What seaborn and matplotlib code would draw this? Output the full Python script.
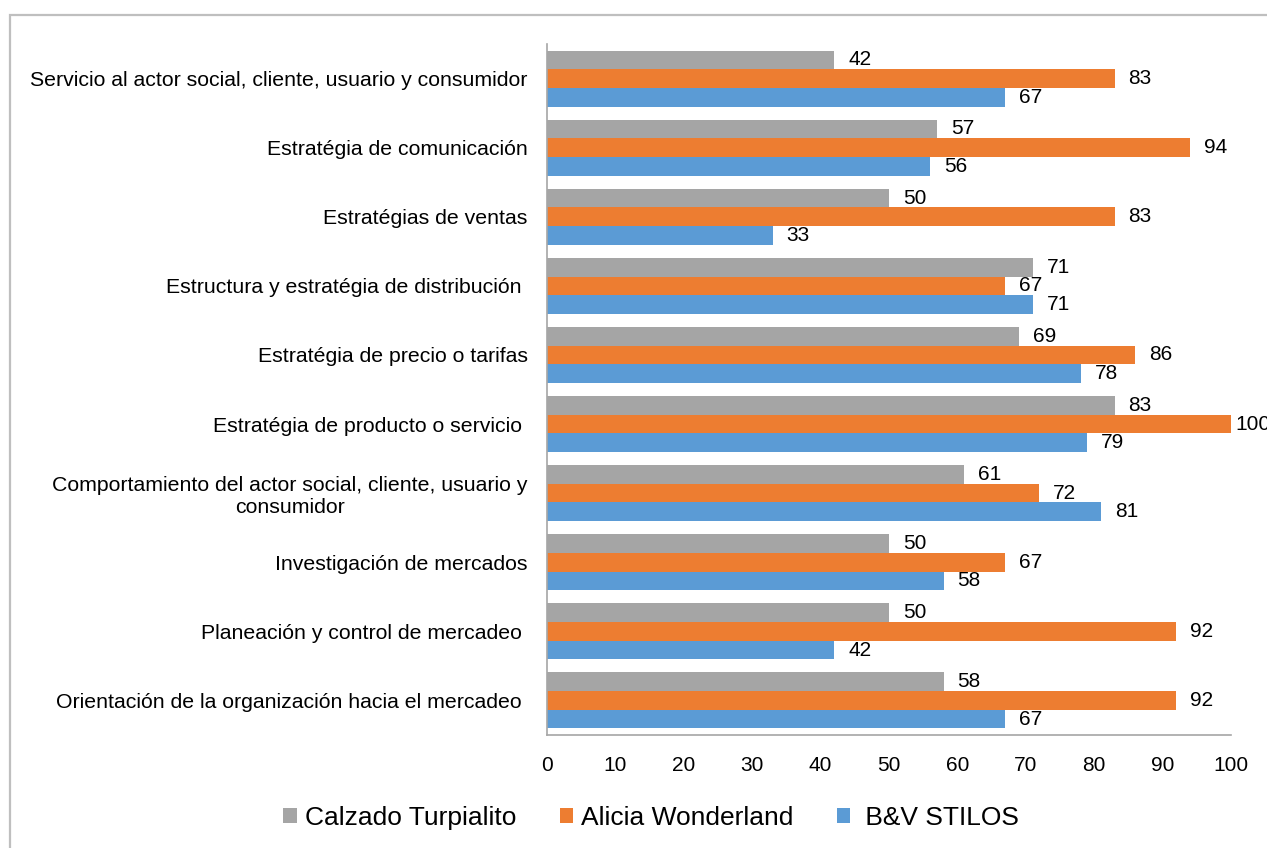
import matplotlib
matplotlib.use("Agg")
import matplotlib.pyplot as plt
from matplotlib.patches import Rectangle, Patch
import seaborn as sns
import pandas as pd

categorias = [
    "Servicio al actor social, cliente, usuario y consumidor",
    "Estratégia de comunicación",
    "Estratégias de ventas",
    "Estructura y estratégia de distribución ",
    "Estratégia de precio o tarifas",
    "Estratégia de producto o servicio ",
    "Comportamiento del actor social, cliente, usuario y\nconsumidor",
    "Investigación de mercados",
    "Planeación y control de mercadeo ",
    "Orientación de la organización hacia el mercadeo ",
]
empresas = ["Calzado Turpialito", "Alicia Wonderland", " B&V STILOS"]
calzado_turpialito = [42, 57, 50, 71, 69, 83, 61, 50, 50, 58]
alicia_wonderland = [83, 94, 83, 67, 86, 100, 72, 67, 92, 92]
bv_stilos = [67, 56, 33, 71, 78, 79, 81, 58, 42, 67]
colores = ["#A5A5A5", "#ED7D31", "#5B9BD5"]

df = pd.concat(
    [
        pd.DataFrame({"categoria": categorias, "empresa": nombre, "valor": vals})
        for nombre, vals in zip(empresas, [calzado_turpialito, alicia_wonderland, bv_stilos])
    ],
    ignore_index=True,
)

sns.set_theme(style="white")
plt.rcParams["font.family"] = ["Liberation Sans", "DejaVu Sans"]

fig = plt.figure(figsize=(12.67, 8.48), dpi=100)
ax = fig.add_axes([547 / 1267, 1 - 735 / 848, (1231 - 547) / 1267, (735 - 44) / 848])

sns.barplot(
    data=df, y="categoria", x="valor", hue="empresa",
    order=categorias, hue_order=empresas, palette=colores,
    orient="h", width=0.81, gap=0, saturation=1, ax=ax, legend=False,
    errorbar=None, linewidth=0, edgecolor="none",
)

for cont in ax.containers:
    labels = ax.bar_label(cont, fmt="%d", padding=10, fontsize=15, color="#000000")
    for t, bar in zip(labels, cont):
        t.set_clip_on(False)
        # a full-length bar keeps its label tight against the bar end
        if bar.get_width() >= 100:
            t.xyann = (3, 0)

ax.set_xlim(0, 100)
ax.set_xticks(range(0, 101, 10))
ax.set_xlabel("")
ax.set_ylabel("")
ax.tick_params(axis="x", labelsize=15, length=0, pad=15, colors="#000000")
ax.tick_params(axis="y", labelsize=15.3, length=0, pad=14, colors="#000000")
for lbl in ax.get_yticklabels():
    lbl.set_multialignment("center")

for s in ["top", "right"]:
    ax.spines[s].set_visible(False)
for s in ["left", "bottom"]:
    ax.spines[s].set_color("#A6A6A6")
    ax.spines[s].set_linewidth(1.2)
ax.grid(False)

handles = [Patch(facecolor=c, edgecolor="none", label=n) for c, n in zip(colores, empresas)]
leg = fig.legend(
    handles=handles, loc="center", bbox_to_anchor=(651 / 1267, 1 - 818 / 848),
    ncol=3, frameon=False, fontsize=19, handlelength=0.5, handleheight=0.5,
    handletextpad=0.3, columnspacing=1.65,
)
for txt in leg.get_texts():
    txt.set_color("#000000")

fig.patches.append(
    Rectangle((10 / 1267, -0.05), 1.2, 1 - 14.5 / 848 + 0.05, transform=fig.transFigure,
              fill=False, edgecolor="#BFBFBF", linewidth=1.6, zorder=-1)
)

fig.savefig("out.png", dpi=100, facecolor="white")
